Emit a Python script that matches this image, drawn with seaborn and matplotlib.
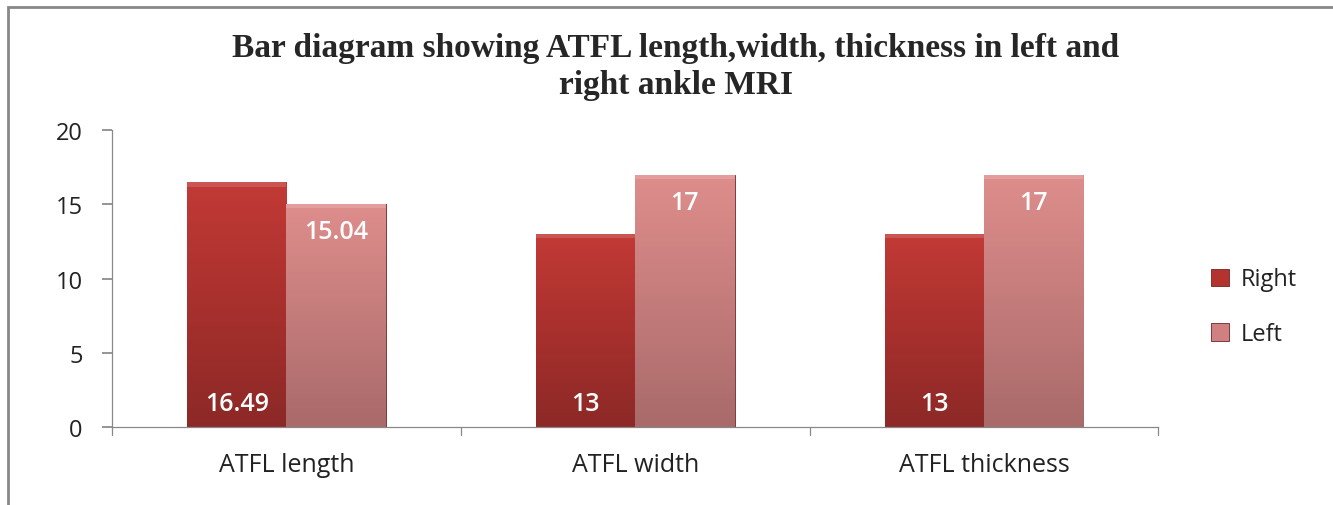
import matplotlib
matplotlib.use("Agg")
import matplotlib.pyplot as plt
from matplotlib.patches import Rectangle
from matplotlib.colors import LinearSegmentedColormap
import numpy as np
import seaborn as sns
import pandas as pd

categories = ["ATFL length", "ATFL width", "ATFL thickness"]
right_vals = [16.49, 13, 13]
left_vals = [15.04, 17, 17]
series = ["Right", "Left"]
yticks = [0, 5, 10, 15, 20]

df = pd.DataFrame({
    "cat": categories * 2,
    "val": right_vals + left_vals,
    "series": ["Right"] * 3 + ["Left"] * 3,
})

sns.set_theme(style="white")
plt.rcParams['font.family'] = ['Open Sans', 'DejaVu Sans']

fig = plt.figure(figsize=(13.33, 5.06), dpi=100)
ax = fig.add_axes([0.084, 0.154, 0.785, 0.587])

palette = {"Right": "#B5332F", "Left": "#D08080"}
sns.barplot(data=df, x="cat", y="val", hue="series", hue_order=series,
            order=categories, palette=palette, width=0.57, saturation=1,
            edgecolor="#6e2525", linewidth=0.6, ax=ax, legend=True)

ax.set_xlim(-0.5, 2.5)
ax.set_ylim(0, 20)

grads = {
    0: LinearSegmentedColormap.from_list("r", ["#8C2927", "#A8302D", "#C23A36"]),
    1: LinearSegmentedColormap.from_list("l", ["#A96A6A", "#C47C7B", "#DE8E8C"]),
}
grad = np.linspace(0, 1, 256).reshape(-1, 1)
for i, cont in enumerate(ax.containers):
    for bar in cont:
        x0, y0 = bar.get_x(), bar.get_y()
        w, h = bar.get_width(), bar.get_height()
        im = ax.imshow(grad, cmap=grads[i], aspect="auto", origin="lower",
                       extent=(x0, x0 + w, y0, y0 + h), zorder=bar.get_zorder() + 0.1)
        im.set_clip_path(bar)
        ax.add_patch(Rectangle((x0, y0 + h - 0.3), w, 0.3, facecolor="white",
                               alpha=0.15, edgecolor="none", zorder=bar.get_zorder() + 0.2))
ax.set_xlim(-0.5, 2.5)
ax.set_ylim(0, 20)

ax.set_yticks(yticks)
ax.set_yticklabels([str(t) for t in yticks], fontsize=17, color="#222222")
ax.set_xlabel("")
ax.set_ylabel("")
ax.set_xticks([0, 1, 2])
ax.set_xticklabels(categories, fontsize=18, color="#222222")
ax.tick_params(axis="x", length=0, pad=18)
ax.tick_params(axis="y", length=7, color="#888888", direction="out", left=True, pad=14)
for b in [-0.5, 0.5, 1.5, 2.5]:
    ax.plot([b, b], [0, -0.5], color="#888888", lw=0.9, clip_on=False)

for s in ["top", "right"]:
    ax.spines[s].set_visible(False)
for s in ["left", "bottom"]:
    ax.spines[s].set_color("#888888")
    ax.spines[s].set_linewidth(0.9)
    ax.spines[s].set_zorder(5)

for bar, v in zip(ax.containers[0], right_vals):
    ax.text(bar.get_x() + bar.get_width() / 2, 1.6, f"{v:g}", ha="center", va="center",
            color="white", fontsize=18, fontweight="semibold", zorder=10)
for bar, v in zip(ax.containers[1], left_vals):
    ax.text(bar.get_x() + bar.get_width() / 2, v - 1.9, f"{v:g}", ha="center", va="center",
            color="white", fontsize=18, fontweight="semibold", zorder=10)

leg = ax.legend(loc="center left", bbox_to_anchor=(1.03, 0.405), frameon=False,
                fontsize=17, handlelength=0.75, handleheight=0.75, labelspacing=1.3,
                handletextpad=0.5)
for t in leg.get_texts():
    t.set_color("#222222")

title_font = ["Liberation Serif", "DejaVu Serif"]
fig.text(0.507, 1 - 57 / 506, "Bar diagram showing ATFL length,width, thickness in left and",
         ha="center", va="baseline", fontsize=24, fontweight="bold", family=title_font)
fig.text(0.507, 1 - 94 / 506, "right ankle MRI",
         ha="center", va="baseline", fontsize=24, fontweight="bold", family=title_font)

fig.patches.append(Rectangle((8 / 1333, -0.1), 1.2, 1.1 - 8 / 506,
                             transform=fig.transFigure, fill=False,
                             edgecolor="#888888", linewidth=2))

fig.savefig("out.png", dpi=100)
